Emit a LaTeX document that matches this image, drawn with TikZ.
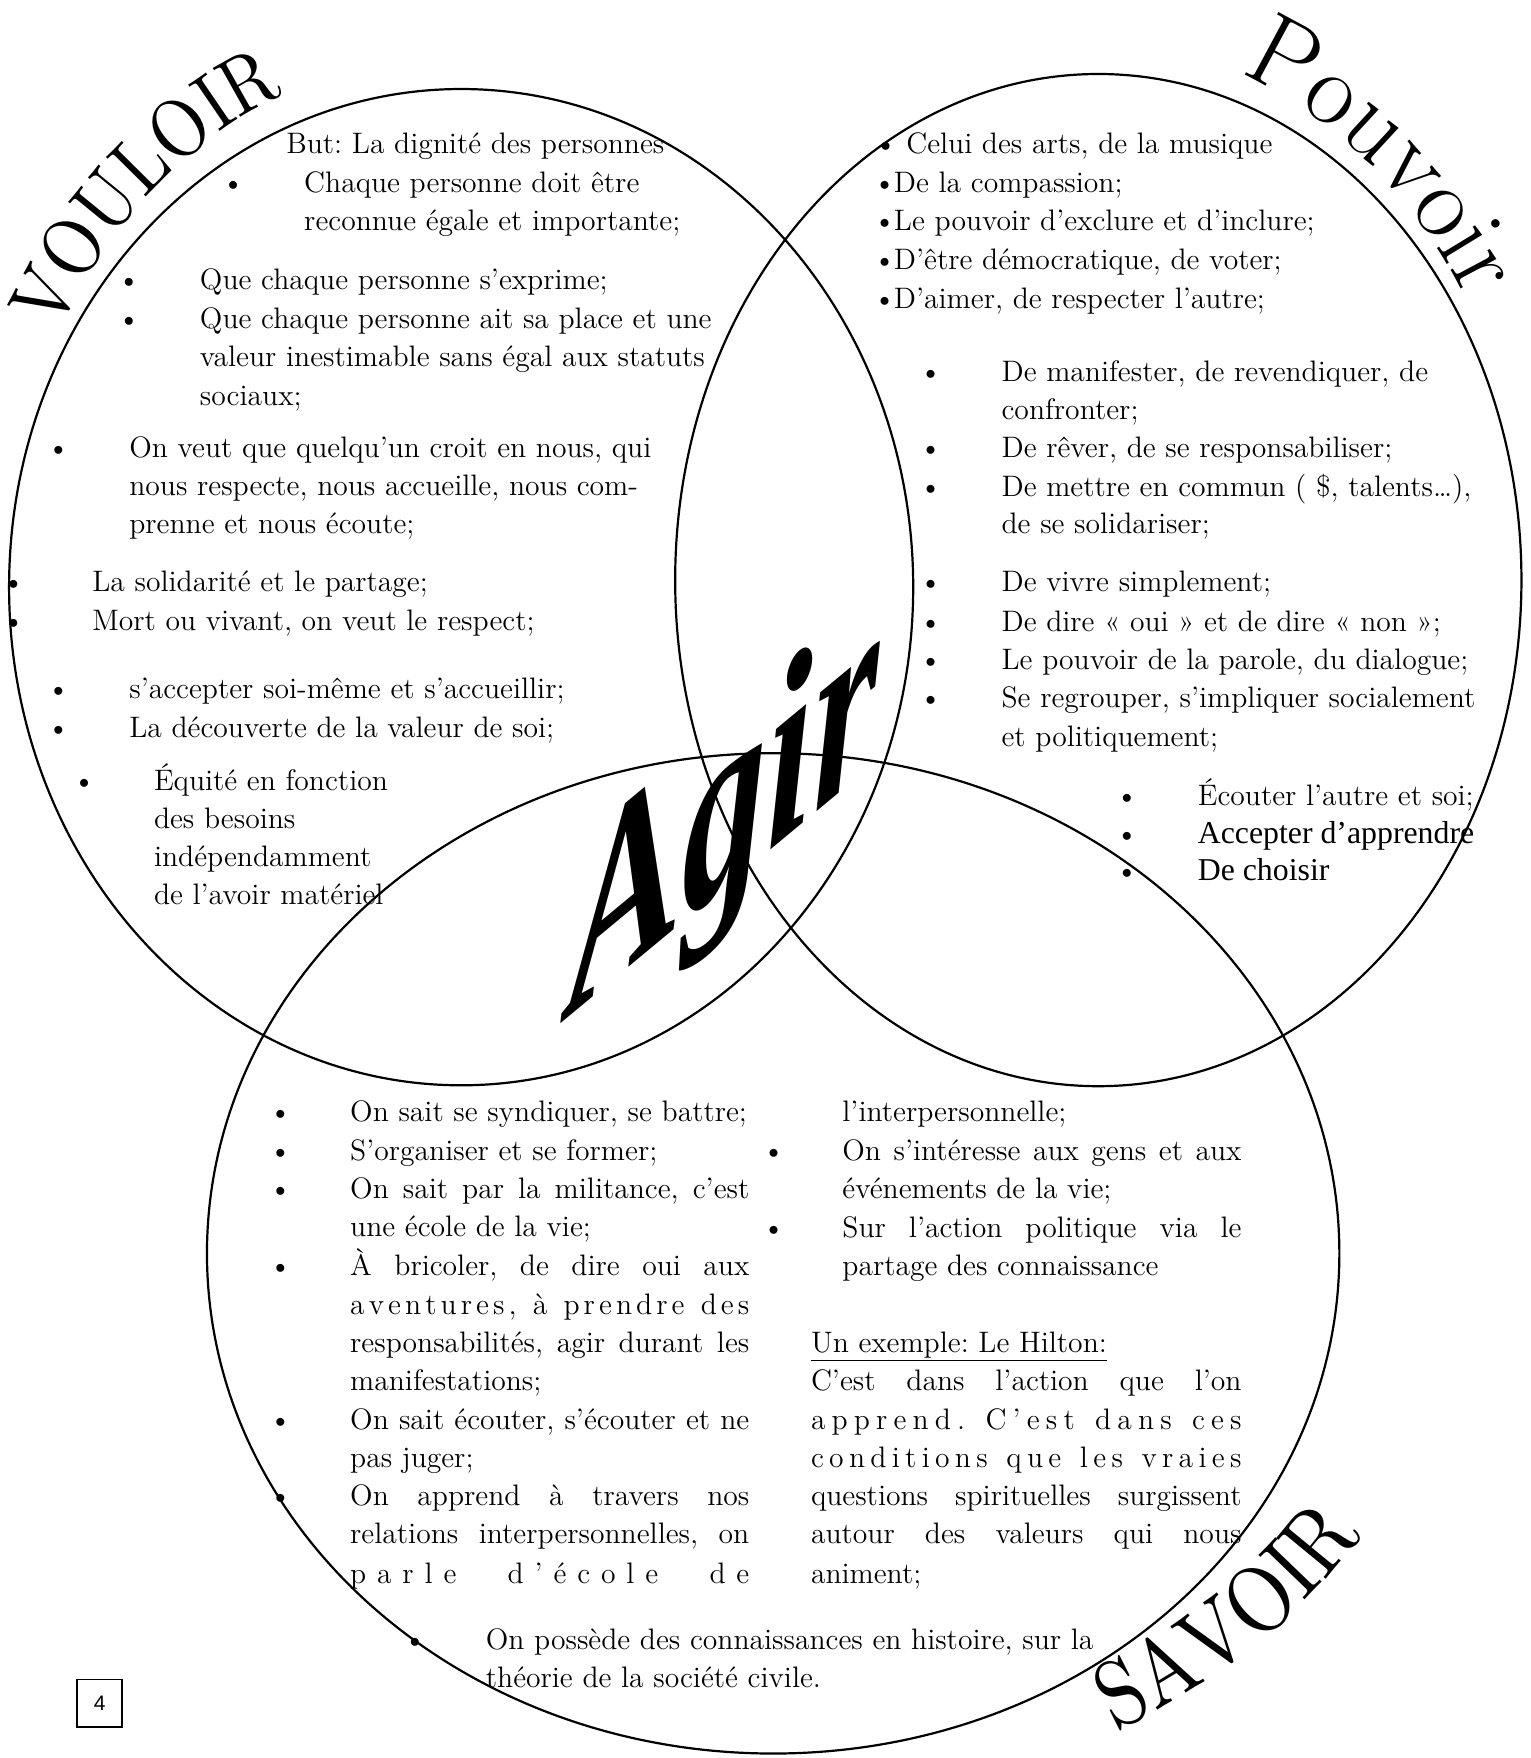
\documentclass[tikz,border=0pt]{standalone}
\usepackage{fontspec}
\newfontfamily\timesf{Liberation Serif}
\newfontfamily\sansf{Liberation Sans}
\newfontfamily\capsfont{lmroman10-regular.otf}[FakeStretch=0.86]
\usetikzlibrary{decorations.text}
\frenchspacing
\newlength\U \setlength\U{0.56045pt}
\newcounter{lnc}
\newcommand\mytl[3]{\stepcounter{lnc}\node[txt] (t\arabic{lnc}) at (#1,-#2-7) {#3};}
\newcommand\mybl[2]{\stepcounter{lnc}\node[txt,anchor=base] (b\arabic{lnc}) at (#1,-#2-7) {\textbullet};}
\newcommand\myjl[4]{\stepcounter{lnc}\node[txt] (t\arabic{lnc}) at (#1,-#2-7) {\makebox[#3\U][s]{#4}};}
\newcommand\lsA{\hskip 0pt plus 1fil\relax}
\newcommand\lsB{\hskip 4pt plus 4fil\relax}
\newcommand\lsC{\hskip 4pt plus 2fil\relax}
\newcommand\titlefont{\capsfont\fontsize{41}{41}\selectfont}
\newcommand\savfont{\capsfont\fontsize{47}{47}\selectfont}
\newcommand\pouvfont{\fontsize{52}{52}\selectfont}
\begin{document}
\begin{tikzpicture}[x=0.56045pt,y=0.56045pt,
  txt/.style={anchor=base west, inner sep=0pt, font=\fontsize{14.8}{19.3}\selectfont},
  circ/.style={line width=1.1pt},
  times/.style={anchor=base west, inner sep=0pt, font=\timesf\fontsize{15.9}{19.3}\selectfont}]
\useasboundingbox (0,0) rectangle (1365,-1568);

% circles
\draw[circ] (411.3,-523.7) ellipse [x radius=403.2, y radius=444.3];
\draw[circ] (979.6,-517.4) ellipse [x radius=377.4, y radius=451.4];
\draw[circ] (689.6,-1117.9) ellipse [x radius=505, y radius=446.1];

% titles along arcs
\path[decorate, decoration={text along path, text align=center, text={|\titlefont|VOULOIR}}]
  (411.3,-523.7) ++(170.8:410 and 477) arc[start angle=170.8, end angle=90.8, x radius=410, y radius=477];
\path[decorate, decoration={text along path, text align=center, text={|\pouvfont|Pouvoir}}]
  (979.6,-517.4) ++(98.5:385 and 478) arc[start angle=98.5, end angle=8.5, x radius=385, y radius=478];
\path[decorate, decoration={text along path, text align=center, text={|\savfont|SAVOIR}}]
  (689.6,-1117.9) ++(-78.7:610 and 492) arc[start angle=-78.7, end angle=-8.7, x radius=610, y radius=492];

% Agir
\begin{scope}[shift={(508,-907)}]
\node[anchor=base west, inner sep=0pt, font=\timesf\bfseries\itshape\fontsize{126}{126}\selectfont,
      yslant=0.83, xscale=0.67, transform shape] (agir) at (0,0) {Agir};
\end{scope}

% VOULOIR text
\mytl{255}{130}{But: La dignité des personnes}
\mybl{208}{165}\mytl{271}{165}{Chaque personne doit être}
\mytl{271}{199}{reconnue égale et importante;}
\mybl{115}{251}\mytl{178}{251}{Que chaque personne s’exprime;}
\mybl{115}{286}\mytl{178}{286}{Que chaque personne ait sa place et une}
\mytl{178}{320}{valeur inestimable sans égal aux statuts}
\mytl{178}{355}{sociaux;}
\mybl{52}{401}\mytl{115}{401}{On veut que quelqu’un croit en nous, qui}
\mytl{115}{435}{nous respecte, nous accueille, nous com-}
\mytl{115}{469}{prenne et nous écoute;}
\mybl{12}{521}\mytl{82}{521}{La solidarité et le partage;}
\mybl{12}{555}\mytl{82}{555}{Mort ou vivant, on veut le respect;}
\mybl{52}{616}\mytl{115}{616}{s’accepter soi-même et s’accueillir;}
\mybl{52}{651}\mytl{115}{651}{La découverte de la valeur de soi;}
\mybl{75}{698}\mytl{137}{698}{Équité en fonction}
\mytl{137}{732}{des besoins}
\mytl{137}{766}{indépendamment}
\mytl{137}{800}{de l’avoir matériel}

% POUVOIR text
\mybl{790}{130}\mytl{808}{130}{Celui des arts, de la musique}
\mybl{789}{165}\mytl{797}{165}{De la compassion;}
\mybl{789}{199}\mytl{797}{199}{Le pouvoir d’exclure et d’inclure;}
\mybl{789}{233}\mytl{797}{233}{D’être démocratique, de voter;}
\mybl{789}{268}\mytl{797}{268}{D’aimer, de respecter l’autre;}
\mybl{830}{333}\mytl{893}{333}{De manifester, de revendiquer, de}
\mytl{893}{367}{confronter;}
\mybl{830}{401}\mytl{893}{401}{De rêver, de se responsabiliser;}
\mybl{830}{436}\mytl{893}{436}{De mettre en commun ( \$, talents…),}
\mytl{893}{469}{de se solidariser;}
\mybl{830}{521}\mytl{893}{521}{De vivre simplement;}
\mybl{830}{556}\mytl{893}{556}{De dire « oui » et de dire « non »;}
\mybl{830}{590}\mytl{893}{590}{Le pouvoir de la parole, du dialogue;}
\mybl{830}{624}\mytl{893}{624}{Se regrouper, s’impliquer socialement}
\mytl{893}{659}{et politiquement;}
\mybl{1005}{711}\mytl{1068}{711}{Écouter l’autre et soi;}
\mybl{1005}{745}\node[times] (acc) at (1068,-752) {Accepter d’apprendre};
\mybl{1005}{778}\node[times] (cho) at (1068,-785) {De choisir};

% SAVOIR left column
\mybl{250}{993}\mytl{312}{993}{On sait se syndiquer, se battre;}
\mybl{250}{1028}\mytl{312}{1028}{S’organiser et se former;}
\mybl{250}{1062}\myjl{312}{1062}{356}{On sait par la militance, c’est}
\mytl{312}{1096}{une école de la vie;}
\mybl{250}{1131}\myjl{312}{1131}{356}{À bricoler, de dire oui aux}
\myjl{312}{1165}{356}{a\lsA v\lsA e\lsA n\lsA t\lsA u\lsA r\lsA e\lsA s\lsA ,\lsC à\lsC p\lsA r\lsA e\lsA n\lsA d\lsA r\lsA e\lsC d\lsA e\lsA s}
\myjl{312}{1199}{356}{responsabilités, agir durant les}
\mytl{312}{1233}{manifestations;}
\mybl{250}{1268}\myjl{312}{1268}{356}{On sait écouter, s’écouter et ne}
\mytl{312}{1302}{pas juger;}
\mybl{250}{1336}\myjl{312}{1336}{356}{On apprend à travers nos}
\myjl{312}{1370}{356}{relations interpersonnelles, on}
\myjl{312}{1405}{356}{p\lsA a\lsA r\lsA l\lsA e\lsB d\lsA ’\lsA é\lsA c\lsA o\lsA l\lsA e\lsB d\lsA e}

% SAVOIR right column
\mytl{751}{993}{l’interpersonnelle;}
\mybl{690}{1028}\myjl{751}{1028}{356}{On s’intéresse aux gens et aux}
\mytl{751}{1062}{événements de la vie;}
\mybl{690}{1097}\myjl{751}{1097}{356}{Sur l’action politique via le}
\mytl{751}{1131}{partage des connaissance}
\mytl{723}{1199}{\underline{Un exemple: Le Hilton:}}
\myjl{723}{1233}{384}{C’est dans l’action que l’on}
\myjl{723}{1268}{384}{a\lsA p\lsA p\lsA r\lsA e\lsA n\lsA d\lsA .\lsC C\lsA ’\lsA e\lsA s\lsA t\lsC d\lsA a\lsA n\lsA s\lsC c\lsA e\lsA s}
\myjl{723}{1302}{384}{c\lsA o\lsA n\lsA d\lsA i\lsA t\lsA i\lsA o\lsA n\lsA s\lsC q\lsA u\lsA e\lsC l\lsA e\lsA s\lsC v\lsA r\lsA a\lsA i\lsA e\lsA s}
\myjl{723}{1336}{384}{questions spirituelles surgissent}
\myjl{723}{1370}{384}{autour des valeurs qui nous}
\mytl{723}{1405}{animent;}

% bottom
\mybl{370}{1464}\mytl{433}{1464}{On possède des connaissances en histoire, sur la}
\mytl{433}{1498}{théorie de la société civile.}

% page number
\node[draw, line width=0.9pt, inner sep=0pt, minimum width=40\U, minimum height=42\U,
      font=\sansf\fontsize{10.5}{12}\selectfont] (page) at (89,-1519) {4};
\end{tikzpicture}
\end{document}
